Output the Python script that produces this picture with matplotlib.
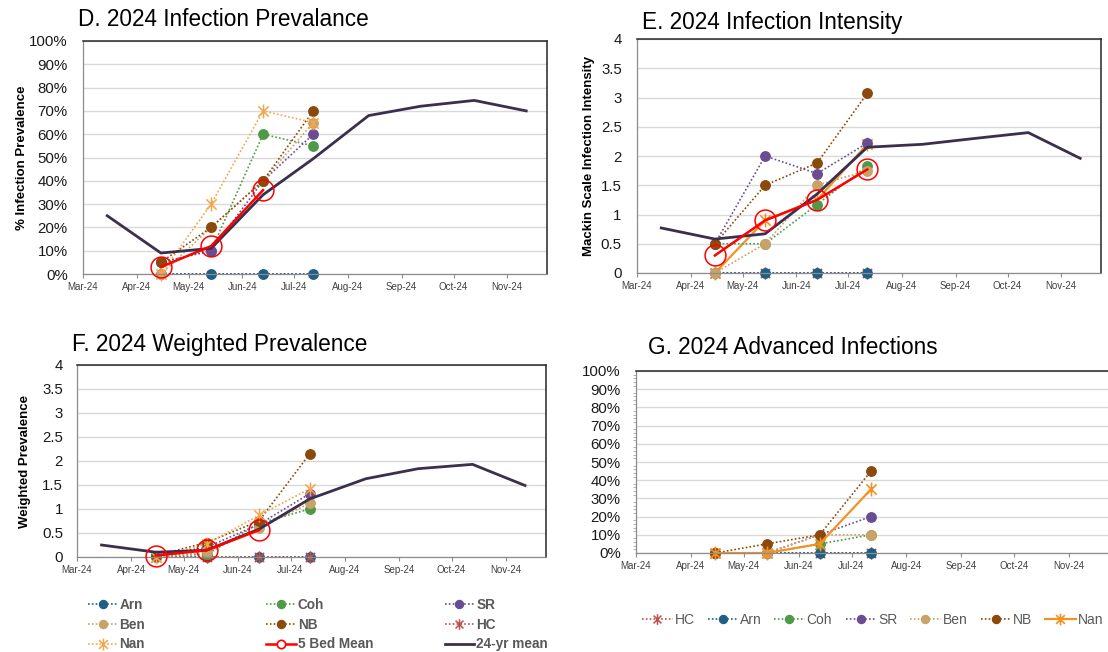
import matplotlib
matplotlib.use("Agg")
import matplotlib.pyplot as plt
import matplotlib.dates as mdates
from matplotlib.lines import Line2D
from matplotlib.path import Path
from matplotlib.ticker import MultipleLocator, FuncFormatter
import numpy as np

plt.rcParams['font.family'] = ['Liberation Sans', 'DejaVu Sans']

# sample dates for the beds, and the monthly dates of the 24-yr mean
sample_dates = np.array(['2024-04-15', '2024-05-14', '2024-06-13', '2024-07-12'], dtype='datetime64[D]')
mean_dates = np.array(['2024-03-15', '2024-04-15', '2024-05-14', '2024-06-13', '2024-07-12',
                       '2024-08-13', '2024-09-12', '2024-10-13', '2024-11-12'], dtype='datetime64[D]')

# D. infection prevalence (%)
prev_arn = [0, 0, 0, 0]
prev_coh = [5, 10, 60, 55]
prev_sr = [5, 10, 40, 60]
prev_ben = [0, 20, 40, 65]
prev_nb = [5, 20, 40, 70]
prev_hc = [0, 0, 0, 0]
prev_nan = [0, 30, 70, 65]
prev_bed_mean = [3, 12, 36]
prev_24yr = [25, 9, 11, 34, 49.5, 68, 72, 74.5, 70]

# E. infection intensity (Mackin scale)
int_arn = [0, 0, 0, 0]
int_coh = [0.5, 0.5, 1.17, 1.83]
int_sr = [0.5, 2.0, 1.7, 2.22]
int_ben = [0, 0.5, 1.5, 1.75]
int_nb = [0.5, 1.5, 1.88, 3.07]
int_hc = [0, 0, 0, 0]
int_nan = [0, 0.9, 1.25, 2.2]
int_bed_mean = [0.3, 0.9, 1.25, 1.77]
int_24yr = [0.77, 0.58, 0.67, 1.35, 2.15, 2.2, 2.3, 2.4, 1.96]

# F. weighted prevalence
wp_arn = [0, 0, 0, 0]
wp_coh = [0.03, 0.05, 0.7, 1.0]
wp_sr = [0.03, 0.2, 0.68, 1.32]
wp_ben = [0, 0.1, 0.6, 1.12]
wp_nb = [0.03, 0.3, 0.75, 2.15]
wp_hc = [0, 0, 0, 0]
wp_nan = [0, 0.27, 0.87, 1.42]
wp_bed_mean = [0.03, 0.14, 0.56]
wp_24yr = [0.25, 0.1, 0.14, 0.58, 1.21, 1.63, 1.84, 1.93, 1.49]

# G. advanced infections (%)
adv_hc = [0, 0, 0, 0]
adv_arn = [0, 0, 0, 0]
adv_coh = [0, 0, 5, 10]
adv_sr = [0, 0, 10, 20]
adv_ben = [0, 0, 10, 10]
adv_nb = [0, 5, 10, 45]
adv_nan = [0, 0, 5, 35]

star = Path([(-1, -1), (1, 1), (-1, 1), (1, -1), (0, -1.35), (0, 1.35)],
            [Path.MOVETO, Path.LINETO] * 3)

dot = (0, (1, 1.3))
colours = {
    'Arn': '#1f5f86', 'Coh': '#4e9a47', 'SR': '#6a4c93', 'Ben': '#c9a267',
    'NB': '#8b4a0b', 'HC': '#c0504d', 'Nan': '#f5a54a', 'NanSolid': '#f39224',
    'mean5': '#ff0000', 'mean24': '#3c2f4d',
}
grey_text = '#595959'
W, H = 1108, 652


def site_style(name, solid_nan=False, hc_size=9):
    c = colours[name]
    if name == 'HC':
        return dict(color=c, ls=dot, lw=1.2, marker=star, ms=hc_size, mew=1.1)
    if name == 'Nan':
        if solid_nan:
            return dict(color=colours['NanSolid'], ls='-', lw=1.6, marker=star, ms=10, mew=1.2)
        return dict(color=c, ls=dot, lw=1.2, marker=star, ms=10, mew=1.1)
    return dict(color=c, ls=dot, lw=1.2, marker='o', ms=6.8, mec=c)


def box(left, right, top, bottom):
    return [left / W, 1 - bottom / H, (right - left) / W, (bottom - top) / H]


def setup_axes(ax, xend, ymax, ystep, percent):
    ax.set_xlim(np.datetime64('2024-03-01'), np.datetime64(xend))
    ax.set_ylim(0, ymax)
    ax.yaxis.set_major_locator(MultipleLocator(ystep))
    if percent:
        ax.yaxis.set_major_formatter(FuncFormatter(lambda v, p: f"{v:.0f}%"))
    else:
        ax.yaxis.set_major_formatter(FuncFormatter(lambda v, p: f"{v:g}"))
    ax.xaxis.set_major_locator(mdates.MonthLocator())
    ax.xaxis.set_major_formatter(mdates.DateFormatter('%b-%y'))
    ax.grid(axis='y', color='#d9d9d9', lw=1)
    ax.set_axisbelow(True)
    ax.tick_params(axis='x', labelsize=7, labelcolor='#404040', length=3, color='#8c8c8c', pad=3)
    ax.tick_params(axis='y', labelsize=10.8, labelcolor='#1a1a1a', length=0, pad=11)
    for s in ['left', 'bottom']:
        ax.spines[s].set_color('#8c8c8c')
        ax.spines[s].set_linewidth(0.9)
    for s in ['top', 'right']:
        ax.spines[s].set_color('#262626')
        ax.spines[s].set_linewidth(1.1)


def plot_line(ax, x, y, **kw):
    ax.plot(x, y, clip_on=False, **kw)


def add_means(ax, bed_vals, yr_vals):
    plot_line(ax, mean_dates, yr_vals, color=colours['mean24'], lw=2, zorder=4)
    plot_line(ax, sample_dates[:len(bed_vals)], bed_vals, color=colours['mean5'], lw=1.8,
              marker='o', ms=15, mfc='none', mec=colours['mean5'], mew=1.1, zorder=5)


fig = plt.figure(figsize=(11.08, 6.52), dpi=100)

# ---- D
axD = fig.add_axes(box(83, 547, 41, 274))
setup_axes(axD, '2024-11-24', 100, 10, True)
plot_line(axD, sample_dates, prev_hc, **site_style('HC', hc_size=6))
for name, vals in [('Arn', prev_arn), ('Coh', prev_coh), ('SR', prev_sr), ('Ben', prev_ben),
                   ('NB', prev_nb), ('Nan', prev_nan)]:
    plot_line(axD, sample_dates, vals, **site_style(name))
add_means(axD, prev_bed_mean, prev_24yr)
axD.set_ylabel('% Infection Prevalence', fontsize=9.5, fontweight='bold')
axD.yaxis.set_label_coords(-0.1185, 0.5)
fig.text(78 / W, 1 - 26 / H, 'D. 2024 Infection Prevalance', fontsize=16.3, va='baseline')

# ---- E
axE = fig.add_axes(box(637, 1101, 39, 273))
setup_axes(axE, '2024-11-24', 4, 0.5, False)
plot_line(axE, sample_dates, int_hc, **site_style('HC'))
plot_line(axE, sample_dates, int_nan, **site_style('Nan', solid_nan=True))
for name, vals in [('Arn', int_arn), ('Coh', int_coh), ('SR', int_sr), ('Ben', int_ben),
                   ('NB', int_nb)]:
    plot_line(axE, sample_dates, vals, **site_style(name))
add_means(axE, int_bed_mean, int_24yr)
axE.set_ylabel('Mackin Scale Infection Intensity', fontsize=9.5, fontweight='bold')
axE.yaxis.set_label_coords(-0.0905, 0.5)
fig.text(642 / W, 1 - 28.5 / H, 'E. 2024 Infection Intensity', fontsize=16.3, va='baseline')

# ---- F
axF = fig.add_axes(box(77, 546, 365, 557))
setup_axes(axF, '2024-11-24', 4, 0.5, False)
axF.tick_params(axis='y', pad=10)
for name, vals in [('Arn', wp_arn), ('HC', wp_hc), ('Coh', wp_coh), ('SR', wp_sr),
                   ('Ben', wp_ben), ('NB', wp_nb), ('Nan', wp_nan)]:
    plot_line(axF, sample_dates, vals, **site_style(name))
add_means(axF, wp_bed_mean, wp_24yr)
axF.set_ylabel('Weighted Prevalence', fontsize=9.5, fontweight='bold')
axF.yaxis.set_label_coords(-0.098, 0.5)
fig.text(72 / W, 1 - 351 / H, 'F. 2024 Weighted Prevalence', fontsize=16.3, va='baseline')

# ---- G
axG = fig.add_axes(box(636, 1120, 371, 553))
setup_axes(axG, '2024-11-30', 100, 10, True)
axG.spines['right'].set_visible(False)
axG.yaxis.set_minor_locator(MultipleLocator(2))
axG.tick_params(axis='y', which='minor', length=2.5, color='#a6a6a6')
for name, vals in [('HC', adv_hc), ('Arn', adv_arn), ('Coh', adv_coh), ('SR', adv_sr),
                   ('Ben', adv_ben), ('NB', adv_nb), ('Nan', adv_nan)]:
    plot_line(axG, sample_dates, vals, **site_style(name, solid_nan=(name == 'Nan')))
fig.text(648 / W, 1 - 354.5 / H, 'G. 2024 Advanced Infections', fontsize=16.3, va='baseline')


# ---- legends
def handle(name, solid_nan=False):
    st = site_style(name, solid_nan=solid_nan)
    st['ms'] = st['ms'] * 0.85
    return Line2D([], [], **st)


def entry_legend(handles, labels, xpix, ytop, spacing=0.3, bold=False):
    fig.legend(handles, labels, loc='upper left', bbox_to_anchor=(xpix / W, 1 - ytop / H),
               frameon=False, labelcolor=grey_text, handlelength=2.2,
               prop={'size': 9.8 if bold else 10, 'weight': 'bold' if bold else 'normal'},
               handletextpad=0.15, borderpad=0, borderaxespad=0, labelspacing=spacing)


h_mean5 = Line2D([], [], color=colours['mean5'], lw=1.8, marker='o', ms=6, mfc='white',
                 mec=colours['mean5'], mew=1.2)
h_mean24 = Line2D([], [], color=colours['mean24'], lw=2)

columns = [
    (87.6, [(handle('Arn'), 'Arn'), (handle('Ben'), 'Ben'), (handle('Nan'), 'Nan')]),
    (265.7, [(handle('Coh'), 'Coh'), (handle('NB'), 'NB'), (h_mean5, '5 Bed Mean')]),
    (444.5, [(handle('SR'), 'SR'), (handle('HC'), 'HC'), (h_mean24, '24-yr mean')]),
]
for xpix, entries in columns:
    entry_legend([e[0] for e in entries], [e[1] for e in entries], xpix, 598,
                 spacing=0.42, bold=True)

g_names = ['HC', 'Arn', 'Coh', 'SR', 'Ben', 'NB', 'Nan']
g_x = [642, 707.7, 774, 845.5, 910, 980.5, 1045]
for name, xpix in zip(g_names, g_x):
    entry_legend([handle(name, solid_nan=True)], [name], xpix, 613)

fig.savefig('out.png', dpi=100)
